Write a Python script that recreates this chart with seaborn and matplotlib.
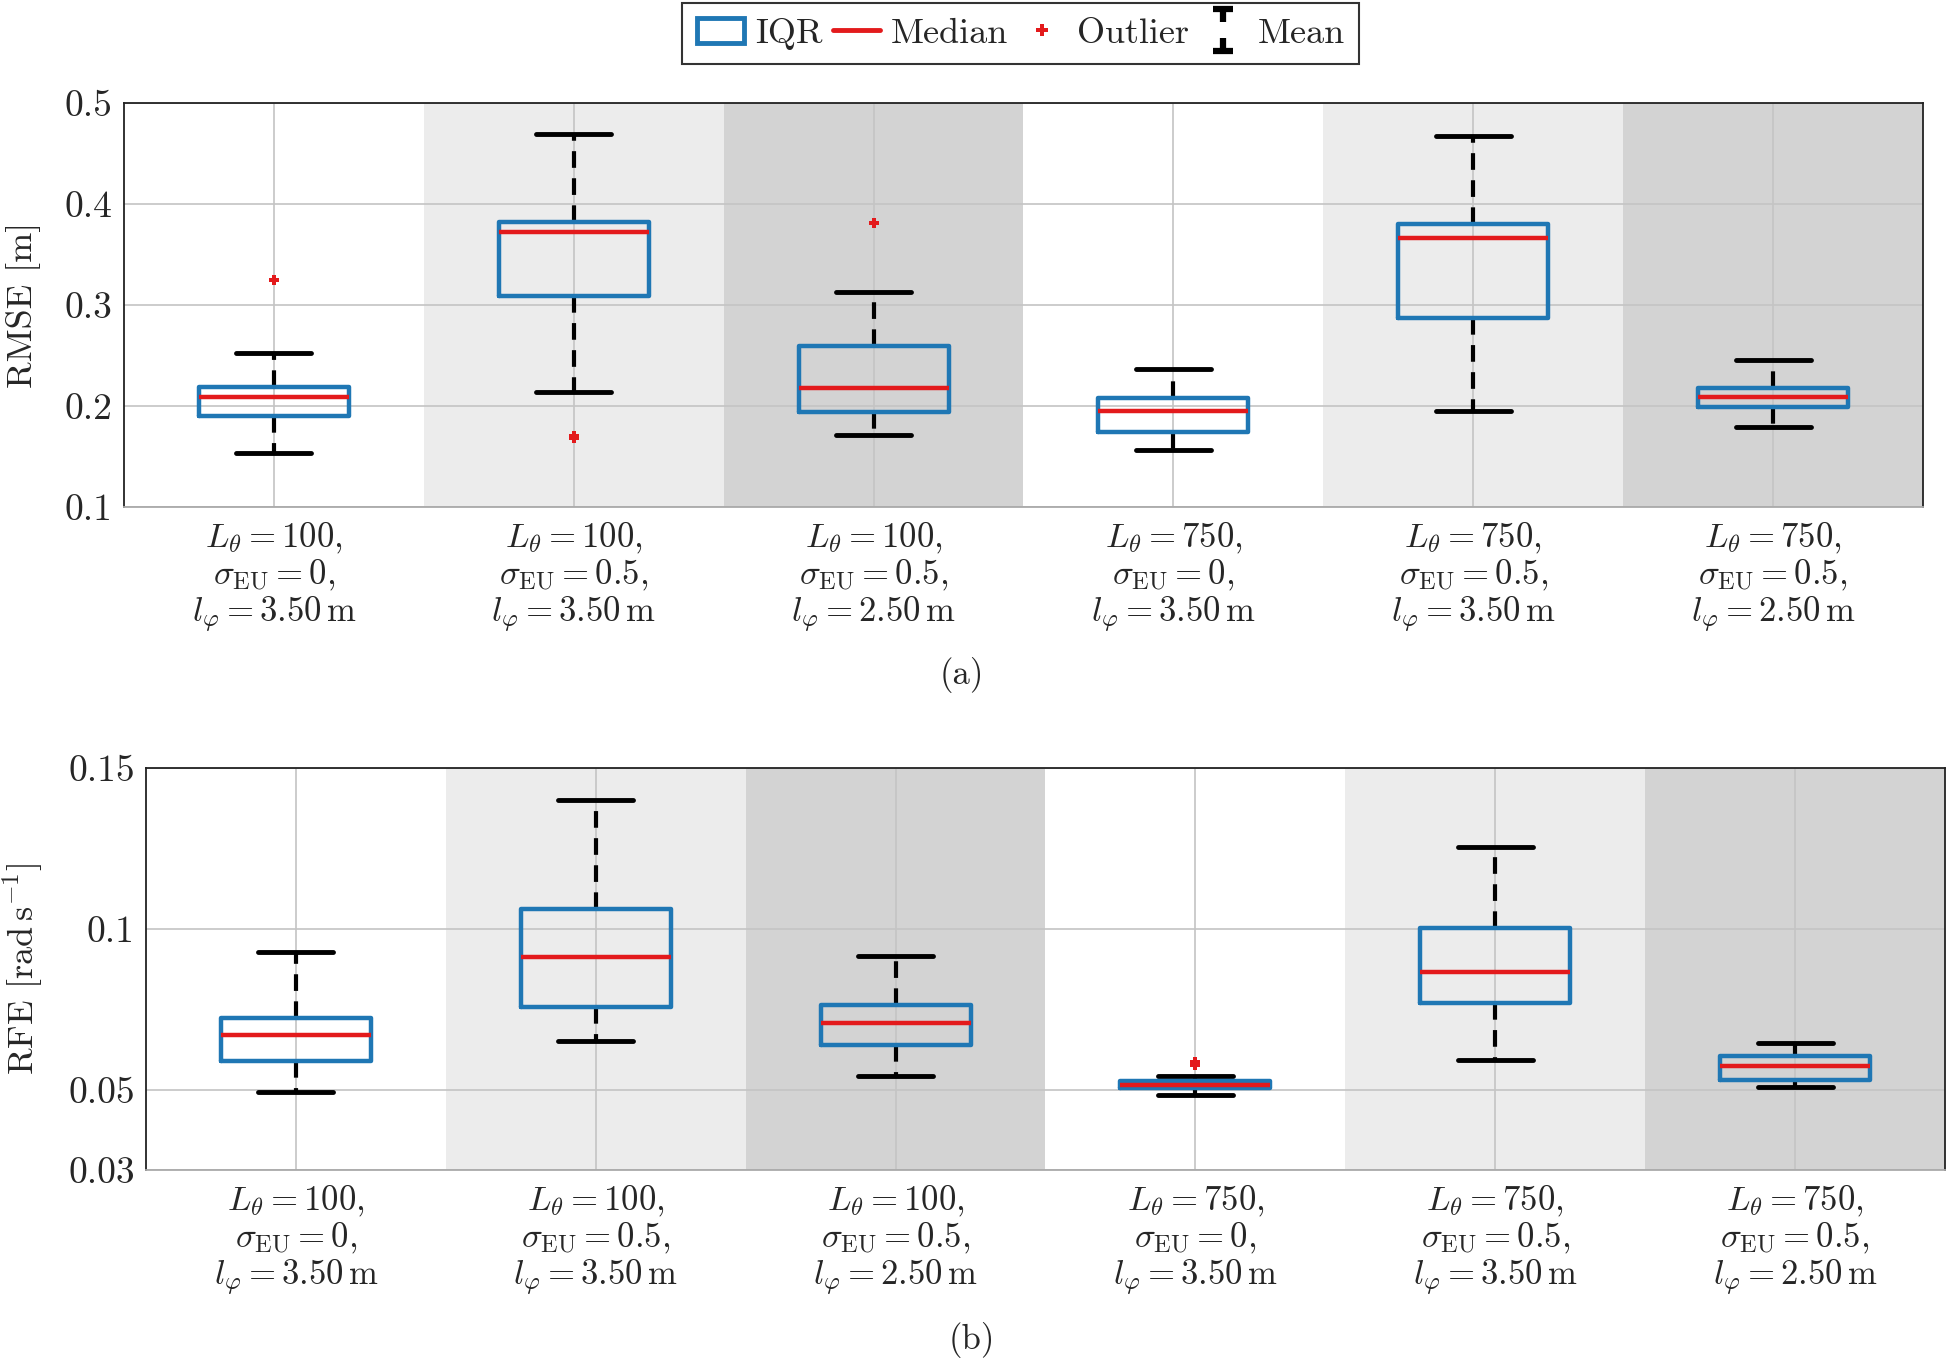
import matplotlib
matplotlib.use("Agg")
import matplotlib.pyplot as plt
import seaborn as sns
import pandas as pd
from matplotlib.lines import Line2D
from matplotlib.patches import Patch
from matplotlib.path import Path

# scenario parameters (x categories)
l_theta = [100, 100, 100, 750, 750, 750]
sigma_eu = ["0", "0.5", "0.5", "0", "0.5", "0.5"]
l_phi = ["3.50", "3.50", "2.50", "3.50", "3.50", "2.50"]

# panel (a): RMSE [m]
rmse_whislo = [0.153, 0.214, 0.171, 0.156, 0.195, 0.179]
rmse_q1 = [0.190, 0.309, 0.194, 0.174, 0.287, 0.199]
rmse_med = [0.209, 0.372, 0.218, 0.195, 0.366, 0.209]
rmse_q3 = [0.219, 0.382, 0.259, 0.208, 0.380, 0.218]
rmse_whishi = [0.252, 0.469, 0.313, 0.237, 0.467, 0.245]
rmse_fliers = [[0.325], [0.168, 0.170], [0.381], [], [], []]

# panel (b): RFE [rad/s]
rfe_whislo = [0.0492, 0.0650, 0.0542, 0.0485, 0.0592, 0.0508]
rfe_q1 = [0.0588, 0.0758, 0.0638, 0.0504, 0.0769, 0.0531]
rfe_med = [0.0669, 0.0912, 0.0708, 0.0515, 0.0865, 0.0573]
rfe_q3 = [0.0723, 0.1062, 0.0762, 0.0527, 0.1004, 0.0604]
rfe_whishi = [0.0927, 0.1400, 0.0915, 0.0542, 0.1254, 0.0646]
rfe_fliers = [[], [], [], [0.0578, 0.0586], [], []]

rmse_ticks = [0.1, 0.2, 0.3, 0.4, 0.5]
rfe_ticks = [0.025, 0.05, 0.1, 0.15]
rfe_tick_labels = ["0.03", "0.05", "0.1", "0.15"]

band_colors = ["white", "#ececec", "#d3d3d3", "white", "#ececec", "#d3d3d3"]

BLUE = "#1f77b4"
RED = "#e31a1c"

sns.set_theme(style="whitegrid")
plt.rcParams["font.family"] = ["cmr10", "DejaVu Serif"]
plt.rcParams["mathtext.fontset"] = "cm"
plt.rcParams["axes.formatter.use_mathtext"] = True
plt.rcParams["axes.unicode_minus"] = False

xlabels = [
    f"$L_\\theta = {a},$\n$\\sigma_{{\\mathrm{{EU}}}} = {b},$\n$l_{{\\boldsymbol{{\\varphi}}}} = {c}\\,\\mathrm{{m}}$"
    for a, b, c in zip(l_theta, sigma_eu, l_phi)
]


def draw_panel(ax, whislo, q1, med, q3, whishi, fliers):
    positions = list(range(1, len(med) + 1))
    for p, col in zip(positions, band_colors):
        ax.axvspan(p - 0.5, p + 0.5, color=col, zorder=0, lw=0)

    stats = []
    for i in range(len(med)):
        stats.append({"whislo": whislo[i], "q1": q1[i], "med": med[i],
                      "q3": q3[i], "whishi": whishi[i], "fliers": []})
    ax.bxp(stats, positions=positions, widths=0.5, capwidths=0.25,
           showfliers=False, manage_ticks=False,
           boxprops=dict(color=BLUE, lw=3.2, zorder=3),
           medianprops=dict(color=RED, lw=3.2, zorder=4),
           whiskerprops=dict(color="black", lw=3, ls=(0, (4, 2.5)), zorder=2),
           capprops=dict(color="black", lw=3.5, zorder=2))

    rows = [{"pos": p, "value": v} for p, vals in zip(positions, fliers) for v in vals]
    if rows:
        sns.scatterplot(data=pd.DataFrame(rows), x="pos", y="value", ax=ax,
                        marker="P", color=RED, s=60, linewidth=0, zorder=5)

    ax.set_xlim(0.5, len(med) + 0.5)
    ax.set_xticks(positions)
    ax.set_xticklabels(xlabels)
    for lbl in ax.get_xticklabels():
        lbl.set_linespacing(1.08)
    ax.set_xlabel("")
    ax.grid(True, color="#c4c4c4", lw=1.2)
    ax.set_axisbelow(True)
    ax.tick_params(axis="x", labelsize=25, pad=10, length=0)
    ax.tick_params(axis="y", labelsize=27, pad=8, direction="in", length=8, color="#999999")
    for s in ax.spines.values():
        s.set_color("#222222")
        s.set_linewidth(1.3)
    ax.spines["bottom"].set_color("#aaaaaa")


fig = plt.figure(figsize=(19.46, 13.59), dpi=100)
ax1 = fig.add_axes([0.0637, 0.627, 0.9245, 0.2973])
ax2 = fig.add_axes([0.0750, 0.139, 0.9245, 0.2958])

draw_panel(ax1, rmse_whislo, rmse_q1, rmse_med, rmse_q3, rmse_whishi, rmse_fliers)
ax1.set_ylim(0.1, 0.5)
ax1.set_yticks(rmse_ticks)
ax1.set_yticklabels([f"{t:g}" for t in rmse_ticks])
ax1.set_ylabel("RMSE [m]", fontsize=26)
ax1.yaxis.set_label_coords(-0.046, 0.5)

draw_panel(ax2, rfe_whislo, rfe_q1, rfe_med, rfe_q3, rfe_whishi, rfe_fliers)
ax2.set_ylim(0.025, 0.15)
ax2.set_yticks(rfe_ticks)
ax2.set_yticklabels(rfe_tick_labels)
ax2.set_ylabel(r"RFE $[\mathrm{rad\,s^{-1}}]$", fontsize=26)
ax2.yaxis.set_label_coords(-0.056, 0.5)

fig.text(0.494, 0.503, "(a)", ha="center", va="center", fontsize=25)
fig.text(0.4995, 0.014, "(b)", ha="center", va="center", fontsize=25)

# legend
mean_marker = Path(
    [(-0.5, 1), (0.5, 1), (0, 1), (0, 0.4), (0, -0.4), (0, -1), (-0.5, -1), (0.5, -1)],
    [Path.MOVETO, Path.LINETO, Path.MOVETO, Path.LINETO,
     Path.MOVETO, Path.LINETO, Path.MOVETO, Path.LINETO])
handles = [
    Patch(facecolor="white", edgecolor=BLUE, lw=3.5, label="IQR"),
    Line2D([], [], color=RED, lw=3.5, label="Median"),
    Line2D([], [], ls="none", marker="P", color=RED, ms=9, mew=0, label="Outlier"),
    Line2D([], [], ls="none", marker=mean_marker, ms=30, mfc="none", mec="black",
           mew=4.5, label="Mean"),
]
leg = fig.legend(handles=handles, loc="upper center", bbox_to_anchor=(0.5245, 0.999),
                 ncol=4, fontsize=26, frameon=True, fancybox=False,
                 handlelength=1.3, handletextpad=0.3, columnspacing=0.3,
                 borderpad=0.4, borderaxespad=0.05, edgecolor="black")
leg.get_frame().set_linewidth(1.5)

fig.savefig("out.png", dpi=100)
